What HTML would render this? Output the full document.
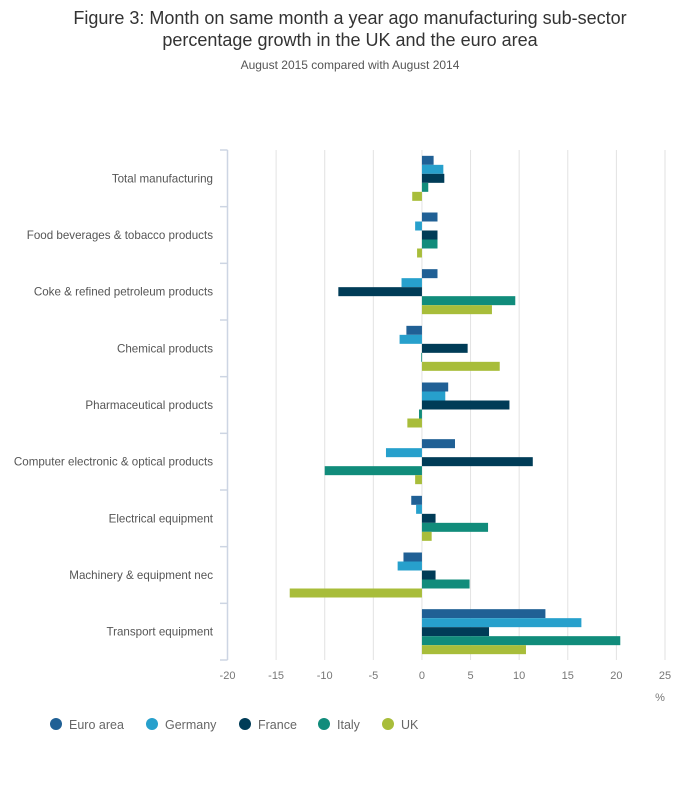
<!DOCTYPE html>
<html><head><meta charset="utf-8"><style>
body{margin:0;background:#fff;font-family:"Liberation Sans",sans-serif;}
svg{display:block}
</style></head><body>
<svg id="chart" width="700" height="810" xmlns="http://www.w3.org/2000/svg">
<text x="350" y="24" text-anchor="middle" font-size="18" fill="#333">Figure 3: Month on same month a year ago manufacturing sub-sector</text>
<text x="350" y="46" text-anchor="middle" font-size="18" fill="#333">percentage growth in the UK and the euro area</text>
<text x="350" y="69" text-anchor="middle" font-size="12" fill="#555">August 2015 compared with August 2014</text>
<g id="grid"></g><g id="bars"></g><g id="axes"></g><g id="legend"></g>
</svg>
<script>
const categories = ["Total manufacturing","Food beverages & tobacco products","Coke & refined petroleum products","Chemical products","Pharmaceutical products","Computer electronic & optical products","Electrical equipment","Machinery & equipment nec","Transport equipment"];
const seriesNames = ["Euro area","Germany","France","Italy","UK"];
const euroArea = [1.2,1.6,1.6,-1.6,2.7,3.4,-1.1,-1.9,12.7];
const germany = [2.2,-0.7,-2.1,-2.3,2.4,-3.7,-0.6,-2.5,16.4];
const france = [2.3,1.6,-8.6,4.7,9.0,11.4,1.4,1.4,6.9];
const italy = [0.65,1.6,9.6,-0.07,-0.3,-10.0,6.8,4.9,20.4];
const uk = [-1.0,-0.5,7.2,8.0,-1.5,-0.7,1.0,-13.6,10.7];
const xTicks = [-20,-15,-10,-5,0,5,10,15,20,25];
const colors = ["#206095","#27a0cc","#003c57","#118c7b","#a8bd3a"];
const series = [euroArea,germany,france,italy,uk];
const NS="http://www.w3.org/2000/svg";
const X0=227.5,X1=665,Y0=150,Y1=660,XMIN=-20,XMAX=25;
const x=v=>X0+(v-XMIN)/(XMAX-XMIN)*(X1-X0);
const band=(Y1-Y0)/categories.length;
const bh=9,pad=(band-bh*5)/2;
function mk(t,a,p){const e=document.createElementNS(NS,t);for(const k in a)e.setAttribute(k,a[k]);p.appendChild(e);return e;}
const grid=document.getElementById('grid'),bars=document.getElementById('bars'),axes=document.getElementById('axes'),legend=document.getElementById('legend');
xTicks.forEach(t=>{
 if(t!==XMIN){const l=mk('line',{x1:x(t),x2:x(t),y1:Y0,y2:Y1,stroke:'#e2e2e2','stroke-width':1},grid);
 
 }
 const tx=mk('text',{x:x(t),y:679,'text-anchor':'middle','font-size':11,fill:'#777'},axes);tx.textContent=t;
 
 
});
const al=mk('line',{x1:X0,x2:X0,y1:Y0,y2:Y1,stroke:'#cdd5e3','stroke-width':1.5},axes);


for(let i=0;i<=categories.length;i++){const y=Y0+i*band;const tk=mk('line',{x1:220,x2:X0,y1:y,y2:y,stroke:'#cdd5e3','stroke-width':1.5},axes);
 
 }
categories.forEach((c,i)=>{
 const t=mk('text',{x:213,y:Y0+i*band+band/2+4,'text-anchor':'end','font-size':11.6,fill:'#555'},axes);t.textContent=c;
 
 
 series.forEach((s,j)=>{
  const v=s[i];const a=x(Math.min(0,v)),b=x(Math.max(0,v));
  const r=mk('rect',{x:a,y:Y0+i*band+pad+j*bh,width:Math.max(b-a,0.8),height:bh,fill:colors[j]},bars);
  
  
 });
});
const pc=mk('text',{x:660,y:701,'text-anchor':'middle','font-size':11,fill:'#777'},axes);pc.textContent='%';


const lx=[56,152,245,324,388];
seriesNames.forEach((n,j)=>{
 const c=mk('circle',{cx:lx[j],cy:724,r:6,fill:colors[j]},legend);
 
 
 const t=mk('text',{x:lx[j]+13,y:729,'font-size':12.5,fill:'#666'},legend);t.textContent=n;
 
 
});
</script>
</body></html>
